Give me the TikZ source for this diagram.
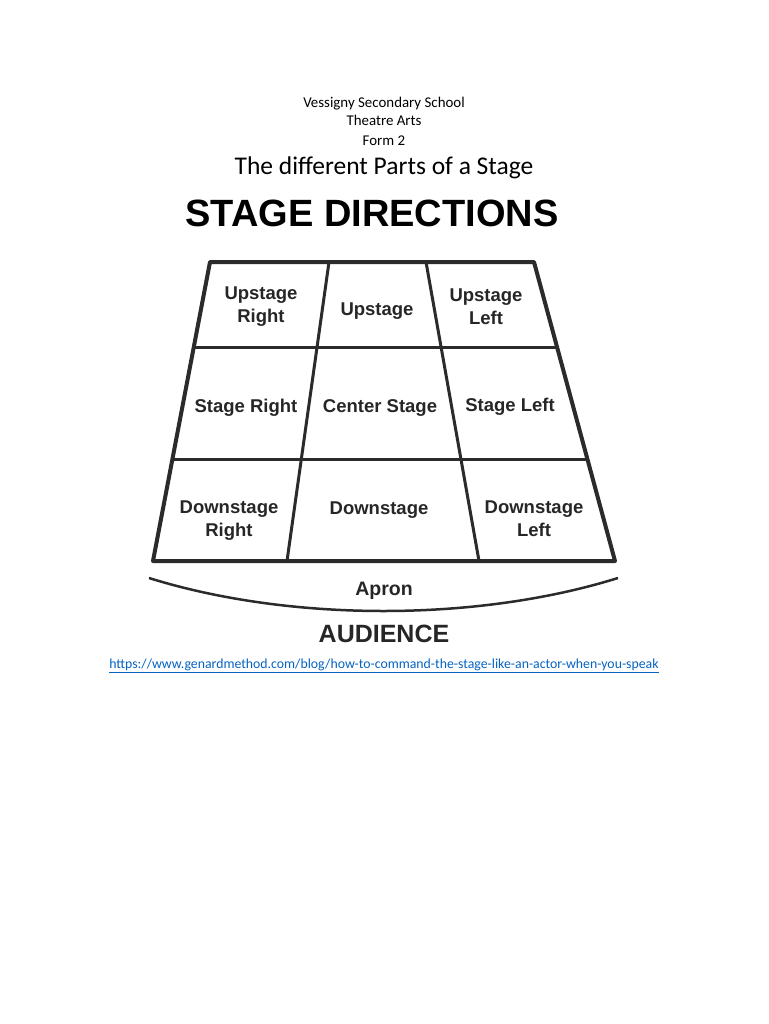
\documentclass[tikz,border=0pt]{standalone}
\usepackage{fontspec}
\setmainfont{Carlito}
\newfontfamily\arialfont{Liberation Sans}
\usetikzlibrary{calc}
\definecolor{linkblue}{HTML}{0563C1}
\definecolor{ink}{HTML}{2B2B2B}
\begin{document}
\begin{tikzpicture}[x=1pt,y=-1pt,
 head/.style={font=\fontsize{14.9}{17}\selectfont, anchor=base},
 cell/.style={font=\arialfont\bfseries\fontsize{18.5}{23}\selectfont, align=center, text=black!85},
 rim/.style={draw=ink, line width=4pt, line join=round},
 wall/.style={draw=ink, line width=3pt}]
\useasboundingbox (0,0) rectangle (768,1024);
% header
\path (384,108) node[head] (school) {Vessigny Secondary School}
 (384,126) node[head] (subject) {Theatre Arts}
 (384,146) node[head] (form) {Form 2}
 (384,175) node[head, font=\fontsize{25.5}{28}\selectfont] (title) {The different Parts of a Stage}
 (372,213) node[font=\arialfont\bfseries\fontsize{38}{40}\selectfont] (banner) {STAGE DIRECTIONS};
% stage floor
\coordinate (TL) at (210,262); \coordinate (TR) at (534,262);
\coordinate (BL) at (153,561); \coordinate (BR) at (615,561);
\coordinate (c1t) at (329,262); \coordinate (c1b) at (287,561);
\coordinate (c2t) at (426,262); \coordinate (c2b) at (479,561);
\foreach \t [count=\i] in {.2876,.6589}
 \draw[wall] ($(TL)!\t!(BL)$) coordinate (r\i l) -- ($(TR)!\t!(BR)$) coordinate (r\i r);
\draw[wall] (c1t) -- (c1b) (c2t) -- (c2b);
\draw[rim] (TL) -- (TR) -- (BR) -- (BL) -- cycle;
% areas
\path (261,307) node[cell] (usr) {Upstage\\Right}
 (377,311) node[cell] (us) {Upstage}
 (486,307) node[cell] (usl) {Upstage\\Left}
 (246,408) node[cell] (sr) {Stage Right}
 (380,408) node[cell] (cs) {Center Stage}
 (510,407) node[cell] (sl) {Stage Left}
 (229,521) node[cell] (dsr) {Downstage\\Right}
 (379,510) node[cell] (ds) {Downstage}
 (534,519) node[cell] (dsl) {Downstage\\Left};
% apron and house
\coordinate (al) at (149,578); \coordinate (ar) at (618,578);
\draw[ink, line width=2.5pt] (al) .. controls (290,622) and (477,622) .. (ar);
\path (384,591) node[cell, font=\arialfont\bfseries\fontsize{19.5}{22}\selectfont] (apron) {Apron}
 (384,634) node[cell, font=\arialfont\bfseries\fontsize{25}{28}\selectfont] (house) {AUDIENCE};
\node[font=\fontsize{13.8}{16}\selectfont, text=linkblue] (link) at (384,666) {\underline{https://www.genardmethod.com/blog/how-to-command-the-stage-like-an-actor-when-you-speak}};
\end{tikzpicture}
\end{document}
